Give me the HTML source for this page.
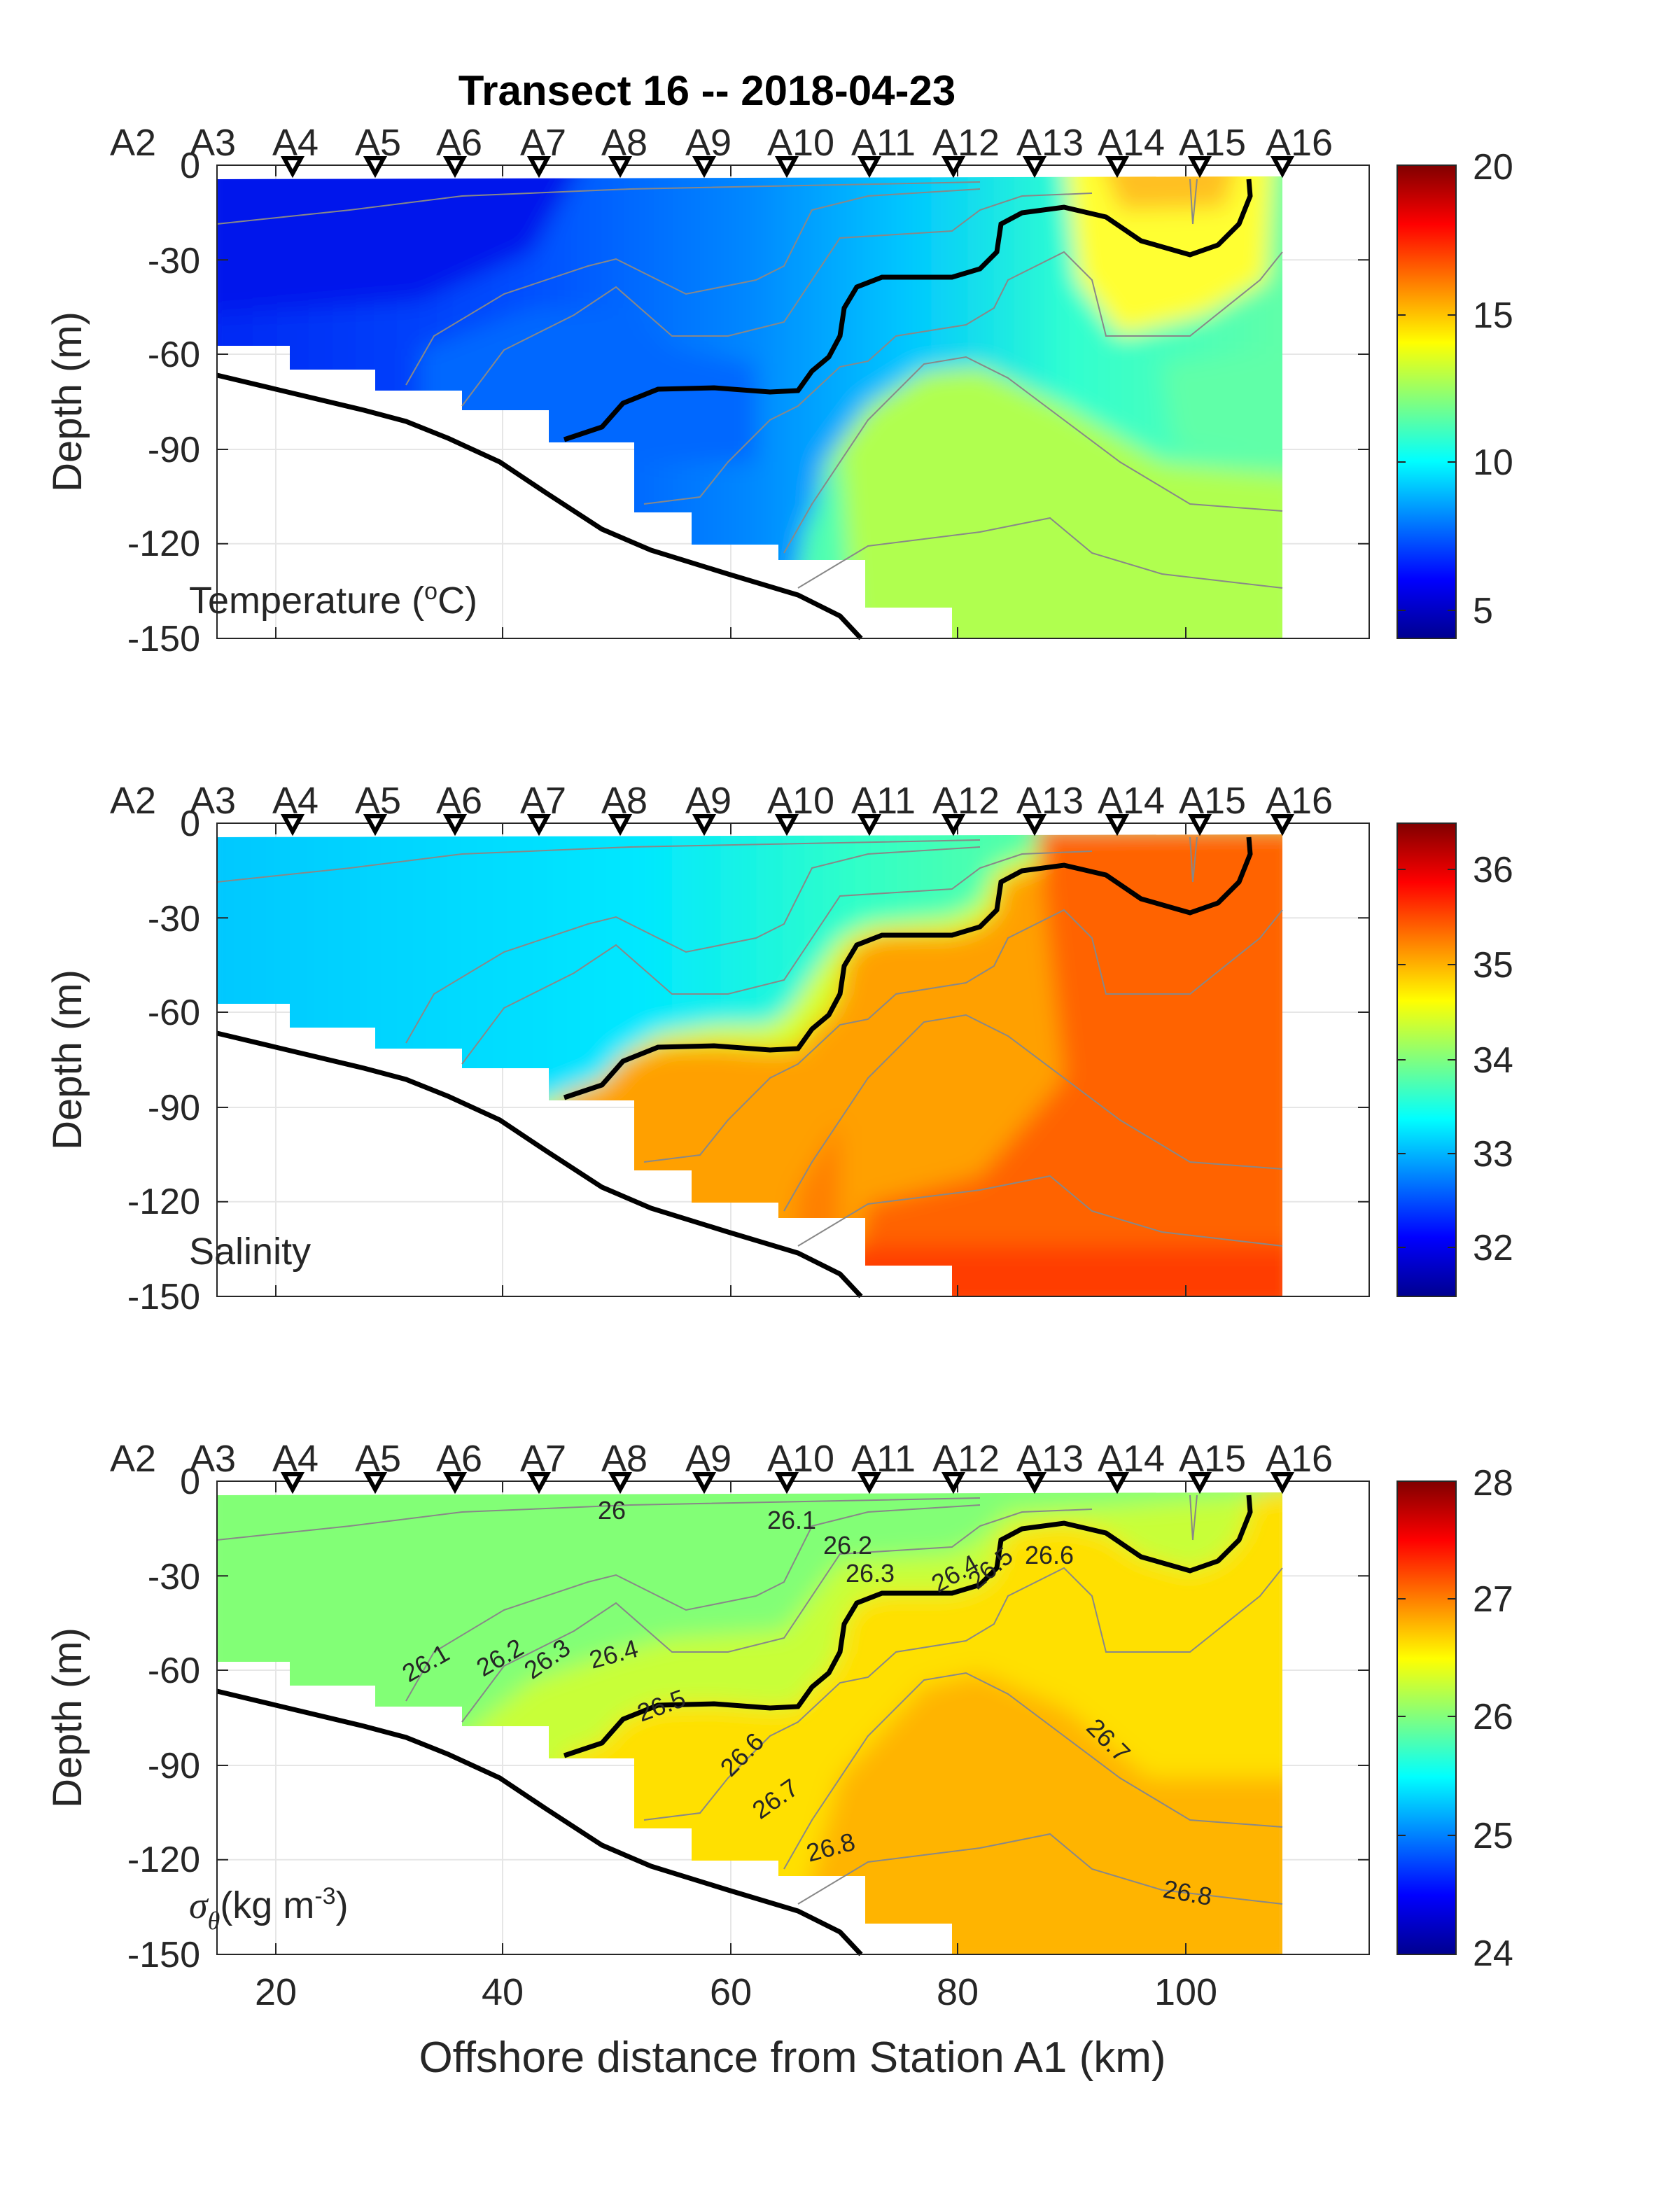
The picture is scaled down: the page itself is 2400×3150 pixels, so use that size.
<!DOCTYPE html>
<html><head><meta charset="utf-8"><style>html,body{margin:0;padding:0;background:#fff}svg{display:block}text{font-family:"Liberation Sans",sans-serif;fill:#262626}</style></head><body>
<svg width="2400" height="3150" viewBox="0 0 1200 1575" xmlns="http://www.w3.org/2000/svg">
<defs>
<linearGradient id="jet" x1="0" y1="1" x2="0" y2="0">
<stop offset="0" stop-color="#00008f"/><stop offset="0.125" stop-color="#0000ff"/><stop offset="0.375" stop-color="#00ffff"/><stop offset="0.625" stop-color="#ffff00"/><stop offset="0.875" stop-color="#ff0000"/><stop offset="1" stop-color="#800000"/>
</linearGradient>
<linearGradient id="tg" x1="155" y1="0" x2="916" y2="0" gradientUnits="userSpaceOnUse">
<stop offset="0" stop-color="#0028f4"/><stop offset="0.3" stop-color="#0050ff"/><stop offset="0.5" stop-color="#0088ff"/><stop offset="0.65" stop-color="#00c8ff"/><stop offset="0.8" stop-color="#30ffd0"/><stop offset="1" stop-color="#60ffa8"/>
</linearGradient>
<linearGradient id="sg" x1="155" y1="0" x2="916" y2="0" gradientUnits="userSpaceOnUse">
<stop offset="0" stop-color="#00c8ff"/><stop offset="0.4" stop-color="#00e8ff"/><stop offset="0.6" stop-color="#30ffc8"/><stop offset="1" stop-color="#90ff70"/>
</linearGradient>
<clipPath id="fp"><polygon points="155,128 908,126 916,126 916,456 680,456 680,434 618,434 618,400 556,400 556,389 494,389 494,366 453,366 453,316 392,316 392,293 330,293 330,279 268,279 268,264 207,264 207,247 155,247"/></clipPath>
<filter id="bl"><feGaussianBlur stdDeviation="8"/></filter>
<g id="bold"><path d="M403,314 L430,305 445,288 470,278 510,277 550,280 570,279 580,265 592,255 600,240 603,220 612,205 630,198 680,198 700,192 712,180 715,160 730,152 760,148 790,155 815,172 850,182 870,175 885,160 893,140 892,128" fill="none" stroke="#000" stroke-width="3.5"/></g>
<g id="gray" fill="none" stroke="#888" stroke-width="1">
<path d="M155,160 L250,150 330,140 450,135 600,132 700,130"/>
<path d="M290,275 L310,240 360,210 420,190 440,185 470,200 490,210 540,200 560,190 580,150 620,140 700,135"/>
<path d="M330,290 L360,250 410,225 440,205 480,240 520,240 560,230 580,200 600,170 680,165 700,150 730,140 780,138"/>
<path d="M460,360 L500,355 520,330 550,300 570,290 600,262 620,258 640,240 690,232 710,220 720,200 760,180 780,200 790,240 850,240 900,200 916,180"/>
<path d="M560,395 L580,360 620,300 660,260 690,255 720,270 760,300 800,330 850,360 916,365"/>
<path d="M570,420 L620,390 700,380 750,370 780,395 830,410 916,420"/>
<path d="M850,128 L852,160 855,128"/>
</g>
<g id="ground"><path d="M155,268 L197,278 260,293 290,301 320,313 357,330 390,352 430,378 465,393 520,410 570,425 600,440 615,456" fill="none" stroke="#000" stroke-width="3.5"/></g>
<g id="axes">
<g stroke="#e6e6e6" stroke-width="1"><line x1="197" y1="118" x2="197" y2="456"/><line x1="359" y1="118" x2="359" y2="456"/><line x1="522" y1="118" x2="522" y2="456"/><line x1="684" y1="118" x2="684" y2="456"/><line x1="847" y1="118" x2="847" y2="456"/>
<line x1="155" y1="185.6" x2="978" y2="185.6"/><line x1="155" y1="253" x2="978" y2="253"/><line x1="155" y1="321" x2="978" y2="321"/><line x1="155" y1="388.4" x2="978" y2="388.4"/></g>
</g>
<g id="frame" fill="none" stroke="#262626" stroke-width="1">
<rect x="155" y="118" width="823" height="338"/>
<path d="M197,118v8M359,118v8M522,118v8M684,118v8M847,118v8M197,456v-8M359,456v-8M522,456v-8M684,456v-8M847,456v-8M155,185.6h8M155,253h8M155,321h8M155,388.4h8M978,118h-8M978,185.6h-8M978,253h-8M978,321h-8M978,388.4h-8"/>
</g>
<g id="lab">
<g font-size="26" text-anchor="end"><text x="143" y="127">0</text><text x="143" y="195">-30</text><text x="143" y="262">-60</text><text x="143" y="330">-90</text><text x="143" y="397">-120</text><text x="143" y="465">-150</text></g>
<text transform="translate(58,287) rotate(-90)" font-size="29" text-anchor="middle">Depth (m)</text>
<g font-size="27" text-anchor="middle" style="fill:#000"><text x="95" y="111">A2</text><text x="152" y="111">A3</text><text x="211" y="111">A4</text><text x="270" y="111">A5</text><text x="328" y="111">A6</text><text x="388" y="111">A7</text><text x="446" y="111">A8</text><text x="506" y="111">A9</text><text x="572" y="111">A10</text><text x="631" y="111">A11</text><text x="690" y="111">A12</text><text x="750" y="111">A13</text><text x="808" y="111">A14</text><text x="866" y="111">A15</text><text x="928" y="111">A16</text></g>
<g fill="#fff" stroke="#000" stroke-width="3"><path d="M203,113h12l-6,11z"/><path d="M262,113h12l-6,11z"/><path d="M319,113h12l-6,11z"/><path d="M379,113h12l-6,11z"/><path d="M437,113h12l-6,11z"/><path d="M497,113h12l-6,11z"/><path d="M556,113h12l-6,11z"/><path d="M615,113h12l-6,11z"/><path d="M675,113h12l-6,11z"/><path d="M733,113h12l-6,11z"/><path d="M792,113h12l-6,11z"/><path d="M851,113h12l-6,11z"/><path d="M910,113h12l-6,11z"/></g>
</g>
<g id="cb"><rect x="998" y="118" width="42" height="338" fill="url(#jet)" stroke="#262626" stroke-width="1"/></g>
</defs>

<text x="505" y="75" font-size="30" font-weight="bold" text-anchor="middle" style="fill:#000">Transect 16 -- 2018-04-23</text>

<!-- Panel 1 -->
<g>
<use href="#axes"/>
<g clip-path="url(#fp)"><g filter="url(#bl)">
<rect x="140" y="110" width="800" height="360" fill="url(#tg)"/>
<polygon points="140,110 420,110 380,180 300,215 140,225" fill="#0018ec"/>
<polygon points="300,250 380,220 440,220 480,250 540,260 540,330 300,330" fill="#0068ff"/>
<polygon points="560,470 590,330 620,290 660,265 700,262 760,290 830,330 930,340 930,470" fill="#b0ff50"/>
<polygon points="560,470 575,380 600,320 610,470" fill="#50ffb0"/>
<polygon points="760,110 910,110 905,200 860,225 800,240 770,200" fill="#ffff30"/>
<polygon points="785,110 885,110 875,148 800,150" fill="#ffc020"/>
<polygon points="830,260 930,250 930,330 840,320" fill="#60ffa8"/>
</g></g>
<use href="#gray"/><use href="#ground"/><use href="#bold"/><use href="#frame"/><use href="#lab"/><use href="#cb"/>
<g font-size="26"><text x="1052" y="128">20</text><text x="1052" y="234">15</text><text x="1052" y="339">10</text><text x="1052" y="445">5</text></g>
<g stroke="#262626"><path d="M998,225h6M998,330h6M998,436h6M1040,225h-6M1040,330h-6M1040,436h-6"/></g>
<text x="135" y="438" font-size="27">Temperature (<tspan font-size="17" dy="-10">o</tspan><tspan dy="10">C)</tspan></text>
</g>

<!-- Panel 2 -->
<g transform="translate(0,470)">
<use href="#axes"/>
<g clip-path="url(#fp)"><g filter="url(#bl)">
<rect x="140" y="110" width="800" height="360" fill="url(#sg)"/>
<polygon points="380,320 430,300 445,283 470,268 510,262 550,262 565,250 585,220 600,200 620,190 680,185 700,175 710,150 740,138 800,138 930,130 930,470 380,470" fill="#d8ff28"/>
<polygon points="403,314 430,305 445,288 470,278 510,277 550,280 570,279 580,265 592,255 600,240 603,220 612,205 630,198 680,198 700,192 712,180 715,160 730,152 760,148 790,155 815,172 850,182 870,175 885,160 893,140 892,128 930,120 930,470 400,470" fill="#ffa000"/>
<polygon points="740,120 930,120 930,470 600,470 620,390 700,370 760,300" fill="#ff6400"/>
<polygon points="600,420 930,420 930,470 600,470" fill="#ff3c00"/>
<polygon points="560,470 570,380 600,330 600,470" fill="#ff8000"/>
</g></g>
<use href="#gray"/><use href="#ground"/><use href="#bold"/><use href="#frame"/><use href="#lab"/><use href="#cb"/>
<g font-size="26"><text x="1052" y="160">36</text><text x="1052" y="228">35</text><text x="1052" y="296">34</text><text x="1052" y="363">33</text><text x="1052" y="430">32</text></g>
<g stroke="#262626"><path d="M998,151h6M998,219h6M998,287h6M998,354h6M998,421h6M1040,151h-6M1040,219h-6M1040,287h-6M1040,354h-6M1040,421h-6"/></g>
<text x="135" y="433" font-size="27">Salinity</text>
</g>

<!-- Panel 3 -->
<g transform="translate(0,940)">
<use href="#axes"/>
<g clip-path="url(#fp)"><g filter="url(#bl)">
<rect x="140" y="110" width="800" height="360" fill="#82ff76"/>
<polygon points="330,300 380,260 440,240 480,230 560,225 580,200 600,175 680,170 700,160 720,140 800,135 930,125 930,470 330,470" fill="#c8ff38"/>
<polygon points="403,314 430,305 445,288 470,278 510,277 550,280 570,279 580,265 592,255 600,240 603,220 612,205 630,198 680,198 700,192 712,180 715,160 730,152 760,148 790,155 815,172 850,182 870,175 885,160 893,140 892,128 930,120 930,470 400,470" fill="#ffe000"/>
<polygon points="560,470 600,330 660,265 700,255 760,280 820,330 930,330 930,470" fill="#ffb400"/>
</g></g>
<use href="#gray"/><use href="#ground"/><use href="#bold"/><use href="#frame"/><use href="#lab"/><use href="#cb"/>
<g font-size="26"><text x="1052" y="128">28</text><text x="1052" y="211">27</text><text x="1052" y="295">26</text><text x="1052" y="380">25</text><text x="1052" y="464">24</text></g>
<g stroke="#262626"><path d="M998,202h6M998,286h6M998,371h6M1040,202h-6M1040,286h-6M1040,371h-6"/></g>
<g font-size="18" style="fill:#000">
<text x="427" y="145">26</text><text x="548" y="152">26.1</text><text x="588" y="170">26.2</text><text x="604" y="190">26.3</text>
<text transform="translate(670,198) rotate(-30)">26.4</text><text transform="translate(698,196) rotate(-40)">26.5</text><text x="732" y="177">26.6</text>
<text transform="translate(292,262) rotate(-30)">26.1</text><text transform="translate(345,258) rotate(-30)">26.2</text><text transform="translate(380,260) rotate(-35)">26.3</text><text transform="translate(423,252) rotate(-15)">26.4</text>
<text transform="translate(458,290) rotate(-20)">26.5</text><text transform="translate(522,330) rotate(-45)">26.6</text><text transform="translate(543,360) rotate(-35)">26.7</text><text transform="translate(578,390) rotate(-15)">26.8</text>
<text transform="translate(775,295) rotate(45)">26.7</text><text transform="translate(830,415) rotate(10)">26.8</text>
</g>
<text x="135" y="430" font-size="27"><tspan font-family="Liberation Serif" font-style="italic">σ</tspan><tspan font-family="Liberation Serif" font-style="italic" font-size="18" dy="8">θ</tspan><tspan dy="-8">(kg m</tspan><tspan font-size="17" dy="-10">-3</tspan><tspan dy="10">)</tspan></text>
<g font-size="27" text-anchor="middle"><text x="197" y="492">20</text><text x="359" y="492">40</text><text x="522" y="492">60</text><text x="684" y="492">80</text><text x="847" y="492">100</text></g>
<text x="566" y="540" font-size="31" text-anchor="middle">Offshore distance from Station A1 (km)</text>
</g>
</svg>
</body></html>
